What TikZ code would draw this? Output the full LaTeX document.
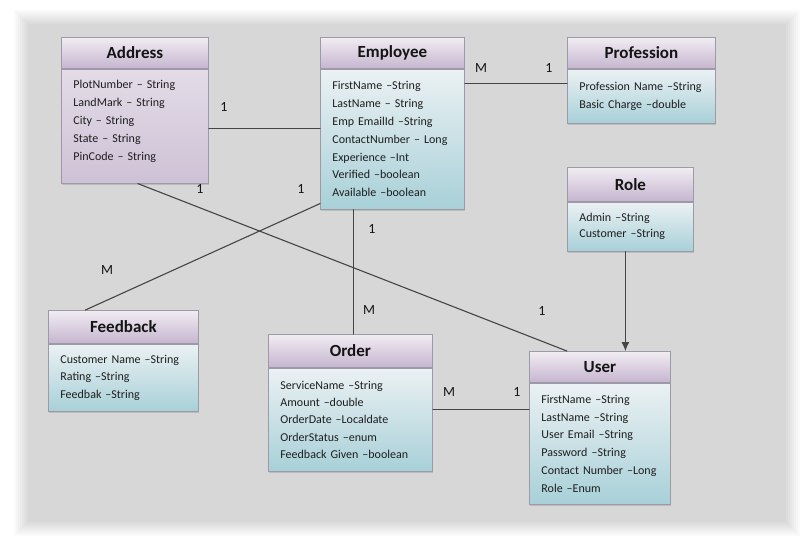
\documentclass[tikz,border=0pt]{standalone}
\usepackage{fontspec}
\setmainfont{Carlito}
\usetikzlibrary{arrows.meta,positioning,shadows}

\definecolor{headtop}{HTML}{F1EDF3}
\definecolor{headbot}{HTML}{C6B5CF}
\definecolor{bodytop}{HTML}{EBF1F3}
\definecolor{bodybot}{HTML}{A8D0D8}
\definecolor{lavtop}{HTML}{E3DCE7}
\definecolor{lavbot}{HTML}{CEC1D6}
\definecolor{edge}{HTML}{9C9AA6}
\definecolor{wire}{HTML}{454545}
\definecolor{ink}{HTML}{1E1E1E}

\begin{document}
\begin{tikzpicture}[x=1pt, y=-1pt, >=Latex, line cap=round,
    classhead/.style={draw=edge, line width=0.8pt, top color=headtop, bottom color=headbot,
      anchor=north west, inner sep=0pt, text=black!92,
      font=\fontsize{17}{20}\selectfont\bfseries,
      drop shadow={opacity=0.3, shadow xshift=1pt, shadow yshift=-1.5pt}},
    classbody/.style={draw=edge, line width=0.8pt, top color=bodytop, bottom color=bodybot,
      anchor=north, inner xsep=12pt, inner ysep=0pt, align=left, text=ink,
      font=\fontsize{12}{17.8}\selectfont,
      drop shadow={opacity=0.3, shadow xshift=1pt, shadow yshift=-1.5pt}},
    card/.style={font=\fontsize{14}{16}\selectfont, text=black!92},
    link/.style={draw=wire, line width=1.1pt}]

  \useasboundingbox (0,0) rectangle (811,544);
  \fill[white] (0,0) rectangle (811,544);

  % grey panel with soft edge
  \foreach \i in {0,...,7}
    \fill[black, opacity=0.018] (28-2*\i,24-2*\i) rectangle (786+2*\i,522+2*\i);

  % Address
  \node[classhead, minimum width=147pt, minimum height=31pt] (addrhead) at (61,37) {Address};
  \node[classbody, top color=lavtop, bottom color=lavbot, text width=123pt, minimum height=114pt]
    (addrbody) at (addrhead.south) {PlotNumber -- String\\LandMark -- String\\City -- String\\State -- String\\PinCode -- String\\[-6pt]\mbox{}};

  % Employee
  \node[classhead, minimum width=144pt, minimum height=31pt] (emplhead) at (320,37) {Employee};
  \node[classbody, text width=120pt, minimum height=140pt] (emplbody) at (emplhead.south)
    {FirstName --String\\LastName -- String\\Emp EmailId --String\\ContactNumber -- Long\\Experience --Int\\Verified --boolean\\Available --boolean};

  % Profession
  \node[classhead, minimum width=148pt, minimum height=31pt] (profhead) at (567,37) {Profession};
  \node[classbody, text width=124pt, minimum height=54pt] (profbody) at (profhead.south)
    {Profession Name --String\\Basic Charge --double};

  % Role
  \node[classhead, minimum width=126pt, minimum height=34pt] (rolehead) at (567,167) {Role};
  \node[classbody, text width=102pt, minimum height=49pt, font=\fontsize{12}{16}\selectfont]
    (rolebody) at (rolehead.south) {Admin --String\\Customer --String};

  % Feedback
  \node[classhead, minimum width=150pt, minimum height=33pt] (feedhead) at (48,310) {Feedback};
  \node[classbody, text width=126pt, minimum height=67pt] (feedbody) at (feedhead.south)
    {Customer Name --String\\Rating --String\\Feedbak --String};

  % Order
  \node[classhead, minimum width=164pt, minimum height=33pt] (ordrhead) at (268,334) {Order};
  \node[classbody, text width=140pt, minimum height=103pt, font=\fontsize{12}{17.3}\selectfont]
    (ordrbody) at (ordrhead.south)
    {ServiceName --String\\Amount --double\\OrderDate --Localdate\\OrderStatus --enum\\Feedback Given --boolean};

  % User
  \node[classhead, minimum width=141pt, minimum height=31pt] (userhead) at (529,351) {User};
  \node[classbody, text width=117pt, minimum height=121pt] (userbody) at (userhead.south)
    {FirstName --String\\LastName --String\\User Email --String\\Password --String\\Contact Number --Long\\Role --Enum};

  % relations
  \draw[link] ([yshift=-2pt]addrbody.east) coordinate (ae) -- (ae -| emplbody.west);
  \draw[link] ([yshift=13pt]profbody.west) coordinate (pe) -- (pe -| emplbody.east);
  \draw[link] ([xshift=3pt]addrbody.south) -- ([xshift=-33pt]userhead.north);
  \draw[link] ([yshift=6pt]emplbody.south west) -- ([xshift=-38pt]feedhead.north);
  \draw[link] ([xshift=-39pt]emplbody.south) coordinate (eo) -- (eo |- ordrhead.north);
  \draw[link] ([yshift=10.5pt]ordrbody.east) coordinate (ou) -- (ou -| userbody.west);
  \draw[link, ->, >={Latex[length=9pt, width=8pt]}] ([xshift=-5pt]rolebody.south) coordinate (ru) -- (ru |- userhead.north);

  % multiplicities
  \node[card] (cAE) at (224,107) {1};
  \node[card] (cEP) at (481,68) {M};
  \node[card] (cPE) at (549,68) {1};
  \node[card] (cAU) at (200,189) {1};
  \node[card] (cUA) at (542,311) {1};
  \node[card] (cEF) at (301,189) {1};
  \node[card] (cFE) at (107,270) {M};
  \node[card] (cEO) at (372,229) {1};
  \node[card] (cOE) at (369,310) {M};
  \node[card] (cOU) at (449,392) {M};
  \node[card] (cUO) at (517,392) {1};

\end{tikzpicture}
\end{document}
